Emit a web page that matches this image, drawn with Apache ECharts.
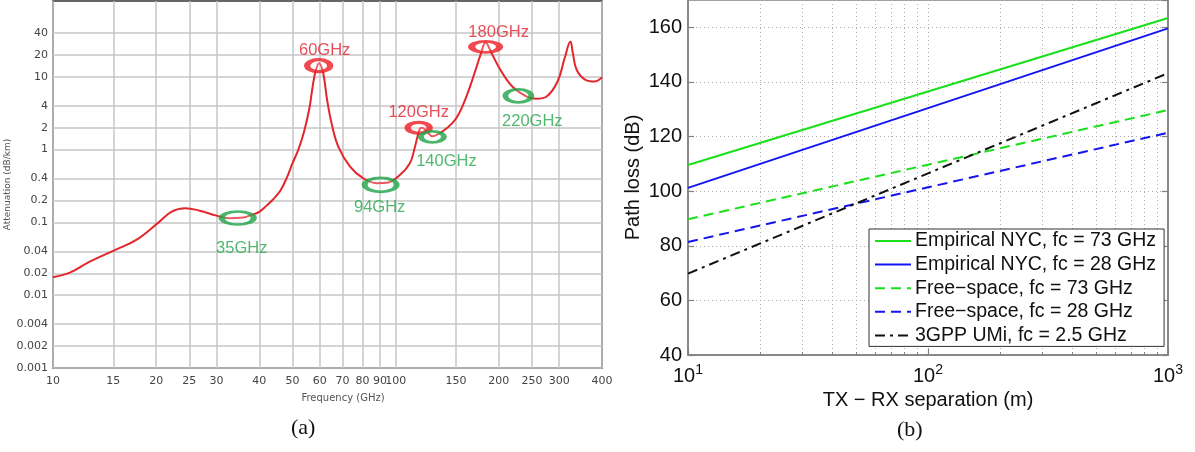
<!DOCTYPE html>
<html>
<head>
<meta charset="utf-8">
<script src="https://cdn.jsdelivr.net/npm/echarts@6/dist/echarts.min.js"></script>
<style>
html,body{margin:0;padding:0;background:#fff;}
#chart{width:1195px;height:452px;}
</style>
</head>
<body>
<div id="chart"></div>
<script>
// ---------- Panel (a): atmospheric attenuation ----------
const freqGHz = [10, 11.2, 12.8, 15.2, 17.5, 20.3, 22.2, 24.3, 26.8, 30, 32.8, 35.9, 38, 40.1, 42, 44, 46, 48, 50, 52, 54, 56, 58, 59.8, 61.5, 63, 65, 68, 73.6, 80.3, 88, 94.2, 103, 110, 113.6, 117.4, 119.5, 123.5, 128, 132, 140.9, 150.4, 160.8, 169.8, 177.5, 182.9, 190.4, 202, 218.9, 241.3, 257.6, 275.7, 296.7, 311.3, 323.5, 328.8, 337.3, 358, 381, 400];
const attenDbKm = [0.0177, 0.0204, 0.0289, 0.0419, 0.0575, 0.0994, 0.141, 0.157, 0.145, 0.124, 0.114, 0.117, 0.127, 0.141, 0.17, 0.21, 0.27, 0.4, 0.65, 1.0, 1.75, 3.7, 10.5, 15.4, 11, 5.0, 2.3, 1.1, 0.585, 0.405, 0.345, 0.35, 0.45, 0.65, 1.05, 1.9, 2.0, 1.75, 1.52, 1.6, 1.97, 2.71, 5.36, 11.2, 21.2, 29.6, 21.2, 12.5, 7.36, 5.36, 4.99, 5.36, 8.63, 18.1, 30.5, 21.2, 12.5, 9.1, 8.63, 9.9];
const freqTicks = [10, 15, 20, 25, 30, 40, 50, 60, 70, 80, 90, 100, 150, 200, 250, 300, 400];
const attenTicks = [0.001, 0.002, 0.004, 0.01, 0.02, 0.04, 0.1, 0.2, 0.4, 1, 2, 4, 10, 20, 40];
const peakFreqs = [59.6, 116.7, 183];
const peakAtten = [14.2, 1.99, 25.8];
const peakLabels = ['60GHz', '120GHz', '180GHz'];
const dipFreqs = [34.6, 90.4, 128, 228];
const dipAtten = [0.115, 0.328, 1.5, 5.48];
const dipLabels = ['35GHz', '94GHz', '140GHz', '220GHz'];

// ---------- Panel (b): path loss ----------
const sepM = [10, 100, 1000];
const empNYC73 = [109.6, 136.5, 163.4];
const empNYC28 = [101.2, 130.4, 159.6];
const freeSpace73 = [89.7, 109.7, 129.7];
const freeSpace28 = [81.4, 101.4, 121.4];
const umi25 = [69.8, 106.5, 143.2];
const seriesNames = ['Empirical NYC, fc = 73 GHz', 'Empirical NYC, fc = 28 GHz', 'Free\u2212space, fc = 73 GHz', 'Free\u2212space, fc = 28 GHz', '3GPP UMi, fc = 2.5 GHz'];

// styling (not data)
const peakRing = [[23, 12], [22, 11], [28, 11]];
const peakOffset = [[6, -15], [0, -15], [13, -14]];
const dipRing = [[32, 13], [32, 14], [23, 11], [26, 13]];
const dipOffset = [[4, 30], [-1, 23], [14, 25], [14, 26]];

function pairs(xs, ys) { return xs.map((x, i) => [x, ys[i]]); }
function ringData(xs, ys, names, sizes, offs) {
  return xs.map((x, i) => ({ value: [x, ys[i]], name: names[i], symbolSize: sizes[i], label: { offset: offs[i] } }));
}

const chart = echarts.init(document.getElementById('chart'));
const fa = 'DejaVu Sans';
const fb = 'Liberation Sans';
const dotted = { color: '#ababab', width: 1, type: [1, 3] };

const option = {
  animation: false,
  backgroundColor: '#fff',
  grid: [
    { left: 53, top: 1, right: 593, bottom: 84, show: true, borderColor: '#333', borderWidth: 1.5 },
    { left: 688, top: -2.5, right: 27, bottom: 97, show: true, borderColor: '#808080', borderWidth: 1.5 }
  ],
  xAxis: [
    {
      type: 'log', logBase: 10, gridIndex: 0, min: 10, max: 400,
      axisLine: { show: false },
      axisTick: { show: false, customValues: freqTicks },
      axisLabel: { customValues: freqTicks, color: '#444', fontFamily: fa, fontSize: 11, margin: 8, formatter: v => String(+(+v).toPrecision(3)) },
      splitLine: { show: true, lineStyle: { color: '#c6c6c6', width: 1.5 } },
      name: 'Frequency (GHz)', nameLocation: 'middle', nameGap: 25,
      nameTextStyle: { color: '#555', fontFamily: fa, fontSize: 10, padding: [0, 0, 0, 31] }
    },
    {
      type: 'log', logBase: 10, gridIndex: 1, min: 10, max: 1000,
      axisLine: { show: true, lineStyle: { color: '#808080', width: 1.5 } },
      axisTick: { show: true, inside: true, length: 6, lineStyle: { color: '#808080', width: 1.2 } },
      minorTick: { show: true, splitNumber: 9, length: 3, lineStyle: { color: '#808080', width: 1 } },
      axisLabel: {
        color: '#111', margin: 8,
        formatter: v => '{b|10}{s|' + Math.round(Math.log10(v)) + '}',
        rich: {
          b: { fontFamily: fb, fontSize: 20, lineHeight: 26, color: '#111' },
          s: { fontFamily: fb, fontSize: 14, verticalAlign: 'top', color: '#111' }
        }
      },
      splitLine: { show: true, lineStyle: dotted },
      minorSplitLine: { show: true, lineStyle: dotted },
      name: 'TX \u2212 RX separation (m)', nameLocation: 'middle', nameGap: 32,
      nameTextStyle: { color: '#111', fontFamily: fb, fontSize: 20 }
    }
  ],
  yAxis: [
    {
      type: 'log', logBase: 10, gridIndex: 0, min: 0.001, max: 110,
      axisLine: { show: false },
      axisTick: { show: false, customValues: attenTicks },
      axisLabel: { customValues: attenTicks, color: '#444', fontFamily: fa, fontSize: 11, margin: 5, formatter: v => String(+(+v).toPrecision(3)) },
      splitLine: { show: true, lineStyle: { color: '#c6c6c6', width: 1.5 } },
      name: 'Attenuation (dB/km)', nameLocation: 'middle', nameGap: 36,
      nameTextStyle: { color: '#555', fontFamily: fa, fontSize: 9 }
    },
    {
      type: 'value', gridIndex: 1, min: 40, max: 170, interval: 20,
      axisLine: { show: true, lineStyle: { color: '#808080', width: 1.5 } },
      axisTick: { show: true, inside: true, length: 6, lineStyle: { color: '#808080', width: 1.2 } },
      axisLabel: { color: '#111', fontFamily: fb, fontSize: 20, margin: 6, showMaxLabel: false },
      splitLine: { show: true, lineStyle: dotted },
      name: 'Path loss (dB)', nameLocation: 'middle', nameGap: 45,
      nameTextStyle: { color: '#111', fontFamily: fb, fontSize: 20 }
    },
    {
      type: 'value', gridIndex: 1, min: 40, max: 170, interval: 20, position: 'right',
      axisLine: { show: true, lineStyle: { color: '#808080', width: 1.5 } },
      axisTick: { show: true, inside: true, length: 6, lineStyle: { color: '#808080', width: 1.2 } },
      axisLabel: { show: false },
      splitLine: { show: false }
    }
  ],
  legend: {
    data: seriesNames,
    orient: 'vertical', left: 869, top: 229,
    backgroundColor: '#fff', borderColor: '#333', borderWidth: 1,
    padding: [2, 8, 1, 5], itemGap: 3.6, itemWidth: 36, itemHeight: 14,
    textStyle: { fontFamily: fb, fontSize: 19.5, lineHeight: 19, color: '#111', padding: [0, 0, 0, -1] },
    itemStyle: { opacity: 0 }
  },
  graphic: [
    { type: 'text', left: 291, top: 417, style: { text: '(a)', font: '22px "Liberation Serif"', fill: '#111' } },
    { type: 'text', left: 897, top: 419, style: { text: '(b)', font: '22px "Liberation Serif"', fill: '#111' } }
  ],
  series: [
    {
      type: 'line', xAxisIndex: 0, yAxisIndex: 0, data: pairs(freqGHz, attenDbKm),
      showSymbol: false, smooth: 0.4, lineStyle: { color: '#e3262b', width: 2 }, silent: true, z: 3
    },
    {
      type: 'scatter', xAxisIndex: 0, yAxisIndex: 0, symbol: 'circle', z: 5,
      data: ringData(peakFreqs, peakAtten, peakLabels, peakRing, peakOffset),
      itemStyle: { color: 'rgba(255,255,255,0.3)', borderColor: '#ee1c24', borderWidth: 4.5 },
      label: { show: true, position: 'inside', formatter: p => p.name, color: '#e2202e', fontFamily: fb, fontSize: 16.5 }
    },
    {
      type: 'scatter', xAxisIndex: 0, yAxisIndex: 0, symbol: 'circle', z: 5,
      data: ringData(dipFreqs, dipAtten, dipLabels, dipRing, dipOffset),
      itemStyle: { color: 'rgba(255,255,255,0.3)', borderColor: '#1ea446', borderWidth: 4 },
      label: { show: true, position: 'inside', formatter: p => p.name, color: '#25a84c', fontFamily: fb, fontSize: 16.5 }
    },
    { name: seriesNames[0], type: 'line', xAxisIndex: 1, yAxisIndex: 1, data: pairs(sepM, empNYC73), showSymbol: false, symbol: 'none', lineStyle: { color: '#19e019', width: 2 }, itemStyle: { color: '#19e019' } },
    { name: seriesNames[1], type: 'line', xAxisIndex: 1, yAxisIndex: 1, data: pairs(sepM, empNYC28), showSymbol: false, symbol: 'none', lineStyle: { color: '#1414f0', width: 2 }, itemStyle: { color: '#1414f0' } },
    { name: seriesNames[2], type: 'line', xAxisIndex: 1, yAxisIndex: 1, data: pairs(sepM, freeSpace73), showSymbol: false, symbol: 'none', lineStyle: { color: '#19e019', width: 2, type: [10, 6] }, itemStyle: { color: '#19e019' } },
    { name: seriesNames[3], type: 'line', xAxisIndex: 1, yAxisIndex: 1, data: pairs(sepM, freeSpace28), showSymbol: false, symbol: 'none', lineStyle: { color: '#1414f0', width: 2, type: [10, 6] }, itemStyle: { color: '#1414f0' } },
    { name: seriesNames[4], type: 'line', xAxisIndex: 1, yAxisIndex: 1, data: pairs(sepM, umi25), showSymbol: false, symbol: 'none', lineStyle: { color: '#111', width: 2, type: [10, 5, 3, 5] }, itemStyle: { color: '#111' } }
  ]
};
chart.setOption(option);
</script>
</body>
</html>
